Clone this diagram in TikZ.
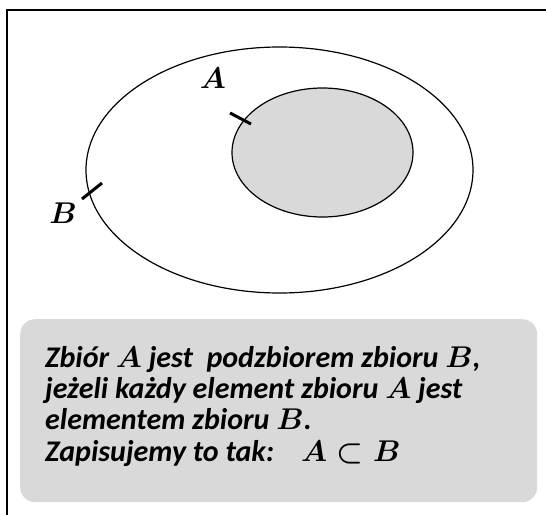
\RequirePackage{fix-cm}
\documentclass[tikz,border=0pt]{standalone}
\usepackage{fontspec}
\setmainfont{Carlito}
\usepackage{amsmath}
\usetikzlibrary{positioning}
\definecolor{setgray}{HTML}{D9D9D9}

\begin{document}
\begin{tikzpicture}[x=1pt, y=-1pt, every node/.style={font=\fontsize{30}{31}\selectfont\bfseries\itshape},
  deftext/.style={font=\fontsize{30}{31.3}\selectfont\bfseries\itshape}]
\useasboundingbox (0,0) rectangle (546,514);
\clip (0,0) rectangle (546,514);
\draw[line width=1.5pt] (7,10) rectangle (560,530);
% zbiory
\draw[line width=1.2pt] (279.5,170) ellipse [x radius=193.5, y radius=123];
\draw[line width=1.2pt, fill=setgray] (322.5,152.5) ellipse [x radius=90.5, y radius=64.5];
\coordinate (tA) at (240.5,118.5);
\coordinate (tB) at (92,191);
\node (labA) at (213,78) {$\boldsymbol{A}$};
\node (labB) at (63,213) {$\boldsymbol{B}$};
\draw[line width=3pt] (tA) ++(-10.5,-5.5) -- ++(21,11);
\draw[line width=3pt] (tB) ++(-10,8) -- ++(20,-16);
% definicja
\node[fill=setgray, rounded corners=15pt, anchor=north west, minimum width=517, minimum height=183, inner sep=0pt] (defbox) at (20,319) {};
\node[deftext, anchor=north west, inner sep=0pt, align=left] (def) at (45,346)
  {Zbiór $\boldsymbol{A}$ jest\ \ podzbiorem zbioru $\boldsymbol{B}$,\\
   jeżeli każdy element zbioru $\boldsymbol{A}$ jest\\
   elementem zbioru $\boldsymbol{B}$.\\
   Zapisujemy to tak:\hspace{27pt}$\boldsymbol{A\subset B}$};
\end{tikzpicture}
\end{document}
